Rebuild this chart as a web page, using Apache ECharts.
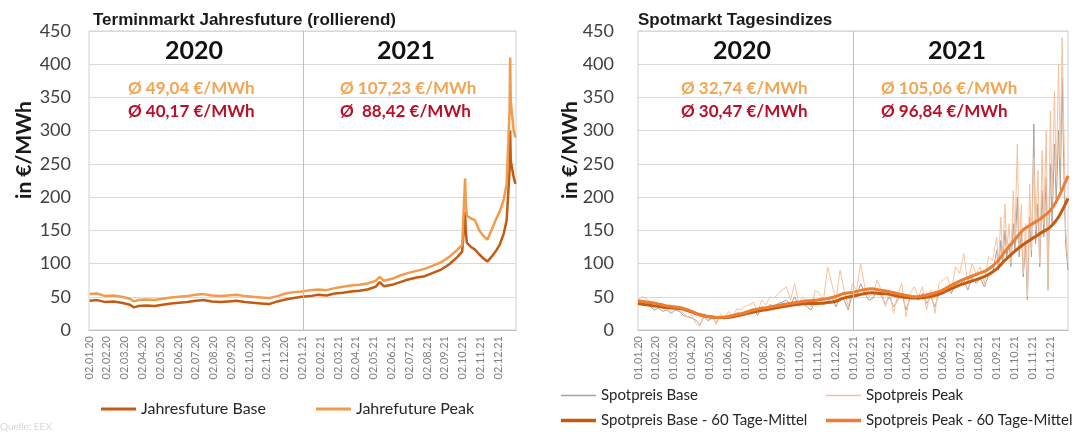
<!DOCTYPE html>
<html>
<head>
<meta charset="utf-8">
<script src="https://cdn.jsdelivr.net/npm/echarts@6/dist/echarts.min.js"></script>
<style>
  html, body { margin: 0; padding: 0; background: #fff; }
  #chart { width: 1078px; height: 432px; }
</style>
</head>
<body>
<div id="chart"></div>
<script>
// Terminmarkt: rollierender Jahresfuture (Base / Peak), in EUR/MWh
var futDates = [
  '2020-01-02','2020-01-15','2020-01-29','2020-02-12','2020-02-26','2020-03-11','2020-03-18','2020-03-25',
  '2020-04-08','2020-04-22','2020-05-06','2020-05-20','2020-06-03','2020-06-17','2020-07-01','2020-07-15',
  '2020-07-29','2020-08-12','2020-08-26','2020-09-09','2020-09-23','2020-10-07','2020-10-21','2020-11-04',
  '2020-11-18','2020-12-02','2020-12-16','2020-12-30',
  '2021-01-13','2021-01-27','2021-02-10','2021-02-24','2021-03-10','2021-03-24','2021-04-07','2021-04-21',
  '2021-05-05','2021-05-12','2021-05-19','2021-06-02','2021-06-16','2021-06-30','2021-07-14','2021-07-28',
  '2021-08-11','2021-08-25','2021-09-08','2021-09-22','2021-09-30','2021-10-05','2021-10-06','2021-10-08',
  '2021-10-15','2021-10-22','2021-10-29','2021-11-05','2021-11-12','2021-11-19','2021-11-26','2021-12-03',
  '2021-12-10','2021-12-15','2021-12-20','2021-12-21','2021-12-22','2021-12-27','2021-12-30'
];
var futBase = [
  44, 45, 42, 43, 41, 38, 34, 36, 37, 36, 38, 40, 41, 42, 44, 45, 43, 42, 43, 44, 42, 41, 40, 39, 43, 46, 48, 50,
  51, 53, 52, 55, 56, 58, 59, 61, 65, 72, 66, 68, 72, 76, 79, 81, 86, 91, 99, 110, 118, 178, 150, 131,
  125, 121, 114, 108, 103, 110, 118, 128, 145, 165, 240, 300, 255, 230, 220
];
var futPeak = [
  54, 55, 51, 52, 50, 47, 43, 45, 46, 45, 47, 49, 50, 51, 53, 54, 52, 51, 52, 53, 51, 50, 49, 48, 51, 55, 57, 58,
  60, 61, 60, 63, 65, 67, 68, 70, 74, 80, 74, 77, 82, 86, 89, 92, 97, 102, 110, 121, 128, 228, 195, 172,
  168, 165, 150, 142, 136, 150, 165, 178, 196, 220, 330, 410, 345, 300, 290
];

// Spotmarkt: Tagesindizes (Stichproben) Base / Peak
var spotDates = [
  '2020-01-01','2020-01-08','2020-01-15','2020-01-22','2020-01-29','2020-02-05','2020-02-12','2020-02-19','2020-02-26',
  '2020-03-04','2020-03-11','2020-03-18','2020-03-25','2020-04-01','2020-04-08','2020-04-15','2020-04-22','2020-04-29',
  '2020-05-06','2020-05-13','2020-05-20','2020-05-27','2020-06-03','2020-06-10','2020-06-17','2020-06-24',
  '2020-07-01','2020-07-08','2020-07-15','2020-07-22','2020-07-29','2020-08-05','2020-08-12','2020-08-19','2020-08-26',
  '2020-09-02','2020-09-09','2020-09-16','2020-09-23','2020-09-30','2020-10-07','2020-10-14','2020-10-21','2020-10-28',
  '2020-11-04','2020-11-11','2020-11-18','2020-11-25','2020-12-02','2020-12-09','2020-12-16','2020-12-23','2020-12-30',
  '2021-01-06','2021-01-13','2021-01-20','2021-01-27','2021-02-03','2021-02-10','2021-02-17','2021-02-24',
  '2021-03-03','2021-03-10','2021-03-17','2021-03-24','2021-03-31','2021-04-07','2021-04-14','2021-04-21','2021-04-28',
  '2021-05-05','2021-05-12','2021-05-19','2021-05-26','2021-06-02','2021-06-09','2021-06-16','2021-06-23','2021-06-30',
  '2021-07-07','2021-07-14','2021-07-21','2021-07-28','2021-08-04','2021-08-11','2021-08-18','2021-08-25',
  '2021-09-01','2021-09-04','2021-09-08','2021-09-11','2021-09-15','2021-09-18','2021-09-22','2021-09-25','2021-09-29',
  '2021-10-02','2021-10-06','2021-10-09','2021-10-13','2021-10-16','2021-10-20','2021-10-23','2021-10-27','2021-10-30',
  '2021-11-03','2021-11-06','2021-11-10','2021-11-13','2021-11-17','2021-11-20','2021-11-24','2021-11-27',
  '2021-12-01','2021-12-04','2021-12-08','2021-12-11','2021-12-15','2021-12-18','2021-12-21','2021-12-24','2021-12-27','2021-12-31'
];
var spotBase = [
  38, 40, 42, 35, 30, 33, 28, 30, 25, 30, 28, 22, 20, 18, 15, 8, 20, 14, 18, 12,
  20, 16, 22, 18, 26, 24, 28, 30, 32, 22, 35, 30, 38, 36, 40, 42, 45, 38, 50, 36,
  40, 35, 30, 44, 40, 38, 42, 50, 35, 48, 45, 30, 55,
  50, 70, 55, 45, 48, 62, 52, 40, 50, 35, 45, 55, 30, 48, 52, 45, 55, 40, 50, 35,
  55, 60, 65, 55, 70, 68, 75, 60, 80, 70, 78, 65, 82, 85,
  120, 90, 135, 100, 150, 110, 130, 95, 160, 120, 200, 110, 150, 80, 130, 45, 170, 110,
  310, 130, 190, 95, 210, 140, 230, 60, 250, 160, 280, 190, 300, 210, 380, 240, 130, 90
];
var spotPeak = [
  45, 50, 48, 40, 35, 38, 32, 34, 28, 36, 30, 25, 20, 22, 10, 5, 25, 15, 22, 8,
  24, 18, 28, 20, 32, 30, 36, 38, 42, 26, 45, 38, 50, 48, 55, 60, 65, 45, 70, 40,
  50, 42, 35, 60, 55, 45, 95, 70, 45, 90, 60, 35, 70,
  60, 100, 65, 50, 55, 75, 60, 35, 60, 25, 55, 70, 20, 55, 65, 50, 65, 30, 60, 25,
  70, 75, 80, 60, 95, 85, 115, 70, 100, 85, 95, 70, 110, 105,
  140, 100, 170, 110, 190, 120, 160, 100, 210, 140, 280, 120, 190, 85, 160, 50, 220, 120,
  260, 150, 240, 100, 270, 160, 300, 60, 330, 200, 360, 230, 400, 260, 440, 300, 150, 100
];

// Spotmarkt: 60-Tage-Mittel Base / Peak
var meanDates = [
  '2020-01-01','2020-01-15','2020-02-01','2020-02-15','2020-03-01','2020-03-15','2020-04-01','2020-04-15',
  '2020-05-01','2020-05-15','2020-06-01','2020-06-15','2020-07-01','2020-07-15','2020-08-01','2020-08-15',
  '2020-09-01','2020-09-15','2020-10-01','2020-10-15','2020-11-01','2020-11-15','2020-12-01','2020-12-15',
  '2021-01-01','2021-01-15','2021-02-01','2021-02-15','2021-03-01','2021-03-15','2021-04-01','2021-04-15',
  '2021-05-01','2021-05-15','2021-06-01','2021-06-15','2021-07-01','2021-07-15','2021-08-01','2021-08-15',
  '2021-09-01','2021-09-15','2021-10-01','2021-10-15','2021-11-01','2021-11-15','2021-12-01','2021-12-15','2021-12-31'
];
var meanBase = [
  40, 38, 36, 34, 33, 32, 27, 23, 20, 19, 19, 21, 24, 27, 30, 32, 35, 37, 39, 40, 40, 41, 43, 48,
  51, 54, 56, 55, 54, 51, 49, 48, 49, 51, 56, 62, 68, 72, 77, 82, 92, 105, 118, 128, 138, 146, 155, 170, 198
];
var meanPeak = [
  44, 42, 40, 37, 35, 33, 28, 23, 20, 19, 20, 23, 26, 30, 33, 35, 38, 40, 42, 44, 45, 47, 50, 55,
  57, 60, 62, 60, 58, 55, 52, 50, 52, 55, 60, 67, 74, 79, 85, 90, 102, 118, 135, 150, 160, 168, 180, 200, 232
];

// Monatsbeschriftung der x-Achsen (letzter Eintrag leer = Ende Dez. 2021)
var leftTicks = [
  '02.01.20','02.02.20','02.03.20','02.04.20','02.05.20','02.06.20','02.07.20','02.08.20','02.09.20','02.10.20','02.11.20','02.12.20',
  '02.01.21','02.02.21','02.03.21','02.04.21','02.05.21','02.06.21','02.07.21','02.08.21','02.09.21','02.10.21','02.11.21','02.12.21', ''
];
var rightTicks = [
  '01.01.20','01.02.20','01.03.20','01.04.20','01.05.20','01.06.20','01.07.20','01.08.20','01.09.20','01.10.20','01.11.20','01.12.20',
  '01.01.21','01.02.21','01.03.21','01.04.21','01.05.21','01.06.21','01.07.21','01.08.21','01.09.21','01.10.21','01.11.21','01.12.21', ''
];

var years = ['2020', '2021'];
var futAvgPeak = ['Ø 49,04 €/MWh', 'Ø 107,23 €/MWh'];
var futAvgBase = ['Ø 40,17 €/MWh', 'Ø  88,42 €/MWh'];
var spotAvgPeak = ['Ø 32,74 €/MWh', 'Ø 105,06 €/MWh'];
var spotAvgBase = ['Ø 30,47 €/MWh', 'Ø 96,84 €/MWh'];

function pairs(dates, vals) {
  return dates.map(function (d, i) { return [d, vals[i]]; });
}

var FONT = 'Lato, "Open Sans", sans-serif';
var colBase = '#c55a11';
var colPeak = '#f29b4c';
var colOrangeTxt = '#f2a555';
var colRedTxt = '#b8102a';

function timeAxis(grid) {
  return {
    type: 'time',
    gridIndex: grid,
    position: 'bottom',
    min: '2020-01-01',
    max: '2021-12-31',
    axisLine: { lineStyle: { color: '#bfbfbf' } },
    axisTick: { show: false },
    axisLabel: { show: false },
    splitLine: { show: false }
  };
}

function labelAxis(grid, ticks) {
  return {
    type: 'category',
    gridIndex: grid,
    position: 'bottom',
    data: ticks,
    boundaryGap: false,
    axisLine: { show: false },
    axisTick: { show: false },
    splitLine: { show: false },
    axisLabel: {
      interval: 0,
      rotate: 90,
      fontSize: 11,
      color: '#7f7f7f',
      fontFamily: FONT,
      margin: 6
    }
  };
}

function makeYAxis(grid, margin) {
  return {
    type: 'value',
    gridIndex: grid,
    min: 0,
    max: 450,
    interval: 50,
    axisLine: { show: false },
    axisTick: { show: false },
    axisLabel: { fontSize: 18, color: '#404040', fontFamily: FONT, margin: margin },
    splitLine: { lineStyle: { color: '#d9d9d9' } }
  };
}

var yearSplit = {
  silent: true,
  symbol: 'none',
  label: { show: false },
  lineStyle: { color: '#bfbfbf', width: 1, type: 'solid' },
  data: [{ xAxis: '2021-01-01' }]
};

function txt(x, y, text, font, fill, align) {
  return {
    type: 'text', x: x, y: y, silent: true,
    style: {
      text: text, font: font, fill: fill,
      textAlign: align || 'center', align: align || 'center',
      textVerticalAlign: 'middle', verticalAlign: 'middle'
    }
  };
}
function vtxt(x, y, text) {
  var t = txt(x, y, text, 'bold 21px ' + FONT, '#1a1a1a', 'center');
  t.rotation = Math.PI / 2;
  return t;
}

var avgFont = 'bold 17px ' + FONT;
var graphics = [
  txt(93, 20, 'Terminmarkt Jahresfuture (rollierend)', 'bold 17px "Liberation Sans", Arial, sans-serif', '#1a1a1a', 'left'),
  txt(638, 20, 'Spotmarkt Tagesindizes', 'bold 17px "Liberation Sans", Arial, sans-serif', '#1a1a1a', 'left'),
  vtxt(24, 150, 'in €/MWh'),
  vtxt(570, 150, 'in €/MWh'),
  txt(194, 51, years[0], 'bold 25px ' + FONT, '#111'),
  txt(406, 51, years[1], 'bold 25px ' + FONT, '#111'),
  txt(742, 51, years[0], 'bold 25px ' + FONT, '#111'),
  txt(957, 51, years[1], 'bold 25px ' + FONT, '#111'),
  txt(128, 89, futAvgPeak[0], avgFont, colOrangeTxt, 'left'),
  txt(128, 112, futAvgBase[0], avgFont, colRedTxt, 'left'),
  txt(340, 89, futAvgPeak[1], avgFont, colOrangeTxt, 'left'),
  txt(340, 112, futAvgBase[1], avgFont, colRedTxt, 'left'),
  txt(681, 89, spotAvgPeak[0], avgFont, colOrangeTxt, 'left'),
  txt(681, 112, spotAvgBase[0], avgFont, colRedTxt, 'left'),
  txt(881, 89, spotAvgPeak[1], avgFont, colOrangeTxt, 'left'),
  txt(881, 112, spotAvgBase[1], avgFont, colRedTxt, 'left'),
  txt(0, 427, 'Quelle: EEX', '10px ' + FONT, '#d6d6d6', 'left')
];

var legendText = { fontSize: 16, color: '#262626', fontFamily: FONT };
var legendTextR = { fontSize: 15, color: '#262626', fontFamily: FONT };
function oneLegend(name, left, top, h) {
  return {
    data: [name], left: left, top: top, padding: 0,
    icon: 'rect', itemWidth: 35, itemHeight: h, itemGap: 4,
    textStyle: legendTextR
  };
}

var option = {
  animation: false,
  textStyle: { fontFamily: FONT },
  grid: [
    { left: 89, right: 562, top: 31, bottom: 102, outerBoundsMode: 'none', show: true, borderColor: '#d0d0d0', borderWidth: 1 },
    { left: 638, right: 10, top: 31, bottom: 102, outerBoundsMode: 'none', show: true, borderColor: '#d0d0d0', borderWidth: 1 }
  ],
  xAxis: [timeAxis(0), timeAxis(1), labelAxis(0, leftTicks), labelAxis(1, rightTicks)],
  yAxis: [makeYAxis(0, 18), makeYAxis(1, 24)],
  legend: [
    {
      data: ['Jahresfuture Base', 'Jahrefuture Peak'], left: 96, top: 396,
      icon: 'rect', itemWidth: 35, itemHeight: 3, itemGap: 50, textStyle: legendText
    },
    oneLegend('Spotpreis Base', 561, 388, 1.5),
    oneLegend('Spotpreis Peak', 826, 388, 1.5),
    oneLegend('Spotpreis Base - 60 Tage-Mittel', 561, 413, 3.5),
    oneLegend('Spotpreis Peak - 60 Tage-Mittel', 826, 413, 3.5)
  ],
  graphic: graphics,
  series: [
    {
      name: 'Jahresfuture Base', type: 'line', xAxisIndex: 0, yAxisIndex: 0,
      data: pairs(futDates, futBase), symbol: 'none',
      lineStyle: { color: colBase, width: 2.5 }, itemStyle: { color: colBase },
      markLine: yearSplit
    },
    {
      name: 'Jahrefuture Peak', type: 'line', xAxisIndex: 0, yAxisIndex: 0,
      data: pairs(futDates, futPeak), symbol: 'none',
      lineStyle: { color: colPeak, width: 2.5 }, itemStyle: { color: colPeak }
    },
    {
      name: 'Spotpreis Base', type: 'line', xAxisIndex: 1, yAxisIndex: 1,
      data: pairs(spotDates, spotBase), symbol: 'none',
      lineStyle: { color: '#ab9f98', width: 1 }, itemStyle: { color: '#ab9f98' },
      markLine: yearSplit
    },
    {
      name: 'Spotpreis Peak', type: 'line', xAxisIndex: 1, yAxisIndex: 1,
      data: pairs(spotDates, spotPeak), symbol: 'none',
      lineStyle: { color: '#f7c09a', width: 1 }, itemStyle: { color: '#f7c09a' }
    },
    {
      name: 'Spotpreis Base - 60 Tage-Mittel', type: 'line', xAxisIndex: 1, yAxisIndex: 1,
      data: pairs(meanDates, meanBase), symbol: 'none', smooth: 0.3,
      lineStyle: { color: colBase, width: 3 }, itemStyle: { color: colBase }
    },
    {
      name: 'Spotpreis Peak - 60 Tage-Mittel', type: 'line', xAxisIndex: 1, yAxisIndex: 1,
      data: pairs(meanDates, meanPeak), symbol: 'none', smooth: 0.3,
      lineStyle: { color: '#ed7d31', width: 3 }, itemStyle: { color: '#ed7d31' }
    }
  ]
};

echarts.init(document.getElementById('chart')).setOption(option);
</script>
</body>
</html>
